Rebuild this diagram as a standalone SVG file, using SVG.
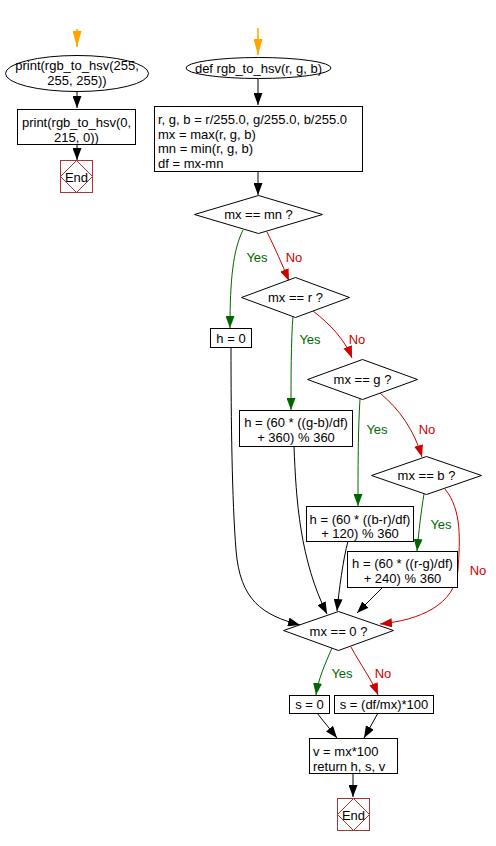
<svg xmlns="http://www.w3.org/2000/svg" width="496" height="846" viewBox="0 0 496 846">
<style>
text{font-family:"Liberation Sans",Arial,sans-serif;font-size:13px;fill:#000}
.c{text-anchor:middle}
.n{fill:#fff;stroke:#000;stroke-width:1}
.e{fill:#fff;stroke:#a33;stroke-width:1}
.k{fill:none;stroke:#000;stroke-width:1;marker-end:url(#ab)}
.g{fill:none;stroke:#060;stroke-width:1;marker-end:url(#ag)}
.r{fill:none;stroke:#c00;stroke-width:1;marker-end:url(#ar)}
.o{fill:none;stroke:#ffa500;stroke-width:1.5;marker-end:url(#ao)}
.yes{fill:#060}
.no{fill:#c00}
</style>
<defs>
<marker id="ab" markerUnits="userSpaceOnUse" markerWidth="12" markerHeight="9" refX="12" refY="4.5" orient="auto"><path d="M0,0 L12,4.5 L0,9 z" fill="#000"/></marker>
<marker id="ag" markerUnits="userSpaceOnUse" markerWidth="12" markerHeight="9" refX="12" refY="4.5" orient="auto"><path d="M0,0 L12,4.5 L0,9 z" fill="#060"/></marker>
<marker id="ar" markerUnits="userSpaceOnUse" markerWidth="12" markerHeight="9" refX="12" refY="4.5" orient="auto"><path d="M0,0 L12,4.5 L0,9 z" fill="#c00"/></marker>
<marker id="ao" markerUnits="userSpaceOnUse" markerWidth="16" markerHeight="9" refX="16" refY="4.5" orient="auto"><path d="M0,0 L16,4.5 L0,9 z" fill="#ffa500"/></marker>
</defs>

<g id="connectors">
<path class="o" d="M77,29 L77,47"/>
<path class="k" d="M77,92 L77,108"/>
<path class="k" d="M77,144 L77,160"/>
<path class="o" d="M258,28 L258,55"/>
<path class="k" d="M258,79 L258,105"/>
<path class="k" d="M258,171 L258,195"/>
<path class="g" d="M243,230 C233,250 230,280 230,328"/>
<path class="r" d="M267,232 C275,248 282,264 289,281"/>
<path class="g" d="M293,316 C291,340 291,380 291,410"/>
<path class="r" d="M313,311 C330,324 345,340 352,358"/>
<path class="g" d="M360,399 C358,430 358,470 358,506"/>
<path class="r" d="M380,393 C400,410 414,430 422,457"/>
<path class="g" d="M424,494 C421,512 419,530 417,551"/>
<path class="r" d="M445,489 C462,510 460,540 458,570 C455,605 420,620 380,624"/>
<path class="k" d="M231,347 C231,420 232,500 236,550 C240,600 262,615 300,625"/>
<path class="k" d="M294,446 C296,500 300,560 327,614"/>
<path class="k" d="M348,541 C343,560 339,590 337,611"/>
<path class="k" d="M383,587 L357,613"/>
<path class="g" d="M332,648 C325,664 318,680 316,695"/>
<path class="r" d="M351,647 C360,664 372,680 378,695"/>
<path class="k" d="M317,713 L337,738"/>
<path class="k" d="M378,713 L364,738"/>
<path class="k" d="M353,773 L353,797"/>
<text class="c yes" x="257" y="262">Yes</text>
<text class="c no" x="294" y="262">No</text>
<text class="c yes" x="310" y="344">Yes</text>
<text class="c no" x="357" y="344">No</text>
<text class="c yes" x="377" y="434">Yes</text>
<text class="c no" x="427" y="434">No</text>
<text class="c yes" x="441" y="529">Yes</text>
<text class="c no" x="478" y="575">No</text>
<text class="c yes" x="342" y="678">Yes</text>
<text class="c no" x="383" y="678">No</text>
</g>

<g id="start1">
<ellipse class="n" cx="77" cy="73.5" rx="71.5" ry="18"/>
<text class="c" x="77" y="69.5">print(rgb_to_hsv(255,</text>
<text class="c" x="77" y="84.5">255, 255))</text>
</g>
<g id="print2">
<rect class="n" x="17.5" y="109.5" width="118" height="35"/>
<text class="c" x="76.5" y="126.5">print(rgb_to_hsv(0,</text>
<text class="c" x="76.5" y="141.5">215, 0))</text>
</g>
<g id="end1">
<rect class="e" x="60.5" y="160.5" width="32" height="32"/>
<path class="e" d="M76.5,160.5 L92.5,176.5 L76.5,192.5 L60.5,176.5 Z"/>
<text class="c" x="76.5" y="181.5">End</text>
</g>

<g id="def">
<ellipse class="n" cx="258.5" cy="68" rx="72.5" ry="10.5"/>
<text class="c" x="258.5" y="72.5">def rgb_to_hsv(r, g, b)</text>
</g>
<g id="init">
<rect class="n" x="154.5" y="106.5" width="208" height="65"/>
<text x="158" y="124">r, g, b = r/255.0, g/255.0, b/255.0</text>
<text x="158" y="138.5">mx = max(r, g, b)</text>
<text x="158" y="153">mn = min(r, g, b)</text>
<text x="158" y="167.5">df = mx-mn</text>
</g>
<g id="d_mn">
<path class="n" d="M258.5,195.5 L322.5,214.5 L258.5,233.5 L194.5,214.5 Z"/>
<text class="c" x="258.5" y="219">mx == mn ?</text>
</g>
<g id="h0">
<rect class="n" x="210.5" y="328.5" width="41" height="19"/>
<text class="c" x="231" y="342.5">h = 0</text>
</g>
<g id="d_r">
<path class="n" d="M295.5,277.5 L349.5,297.5 L295.5,317.5 L241.5,297.5 Z"/>
<text class="c" x="295.5" y="302">mx == r ?</text>
</g>
<g id="d_g">
<path class="n" d="M362.5,359.5 L417.5,379.5 L362.5,399.5 L307.5,379.5 Z"/>
<text class="c" x="362.5" y="384">mx == g ?</text>
</g>
<g id="hgb">
<rect class="n" x="239.5" y="410.5" width="113" height="36"/>
<text class="c" x="296" y="426.5">h = (60 * ((g-b)/df)</text>
<text class="c" x="296" y="441.5">+ 360) % 360</text>
</g>
<g id="d_b">
<path class="n" d="M426.5,456.5 L481.5,475.5 L426.5,494.5 L371.5,475.5 Z"/>
<text class="c" x="426.5" y="480">mx == b ?</text>
</g>
<g id="hbr">
<rect class="n" x="306.5" y="506.5" width="107" height="35"/>
<text class="c" x="360" y="523.5">h = (60 * ((b-r)/df)</text>
<text class="c" x="360" y="538">+ 120) % 360</text>
</g>
<g id="hrg">
<rect class="n" x="347.5" y="551.5" width="110" height="36"/>
<text class="c" x="402.5" y="567.5">h = (60 * ((r-g)/df)</text>
<text class="c" x="402.5" y="582.5">+ 240) % 360</text>
</g>
<g id="d_0">
<path class="n" d="M338.5,611.5 L393.5,630.5 L338.5,650.5 L283.5,630.5 Z"/>
<text class="c" x="338.5" y="635.5">mx == 0 ?</text>
</g>
<g id="s0">
<rect class="n" x="289.5" y="695.5" width="40" height="18"/>
<text class="c" x="309.5" y="709">s = 0</text>
</g>
<g id="sdf">
<rect class="n" x="334.5" y="695.5" width="99" height="18"/>
<text class="c" x="384" y="709">s = (df/mx)*100</text>
</g>
<g id="ret">
<rect class="n" x="309.5" y="738.5" width="88" height="35"/>
<text x="313" y="755.5">v = mx*100</text>
<text x="313" y="770.5">return h, s, v</text>
</g>
<g id="end2">
<rect class="e" x="337.5" y="798.5" width="32" height="32"/>
<path class="e" d="M353.5,798.5 L369.5,814.5 L353.5,830.5 L337.5,814.5 Z"/>
<text class="c" x="353.5" y="819.5">End</text>
</g>
</svg>
